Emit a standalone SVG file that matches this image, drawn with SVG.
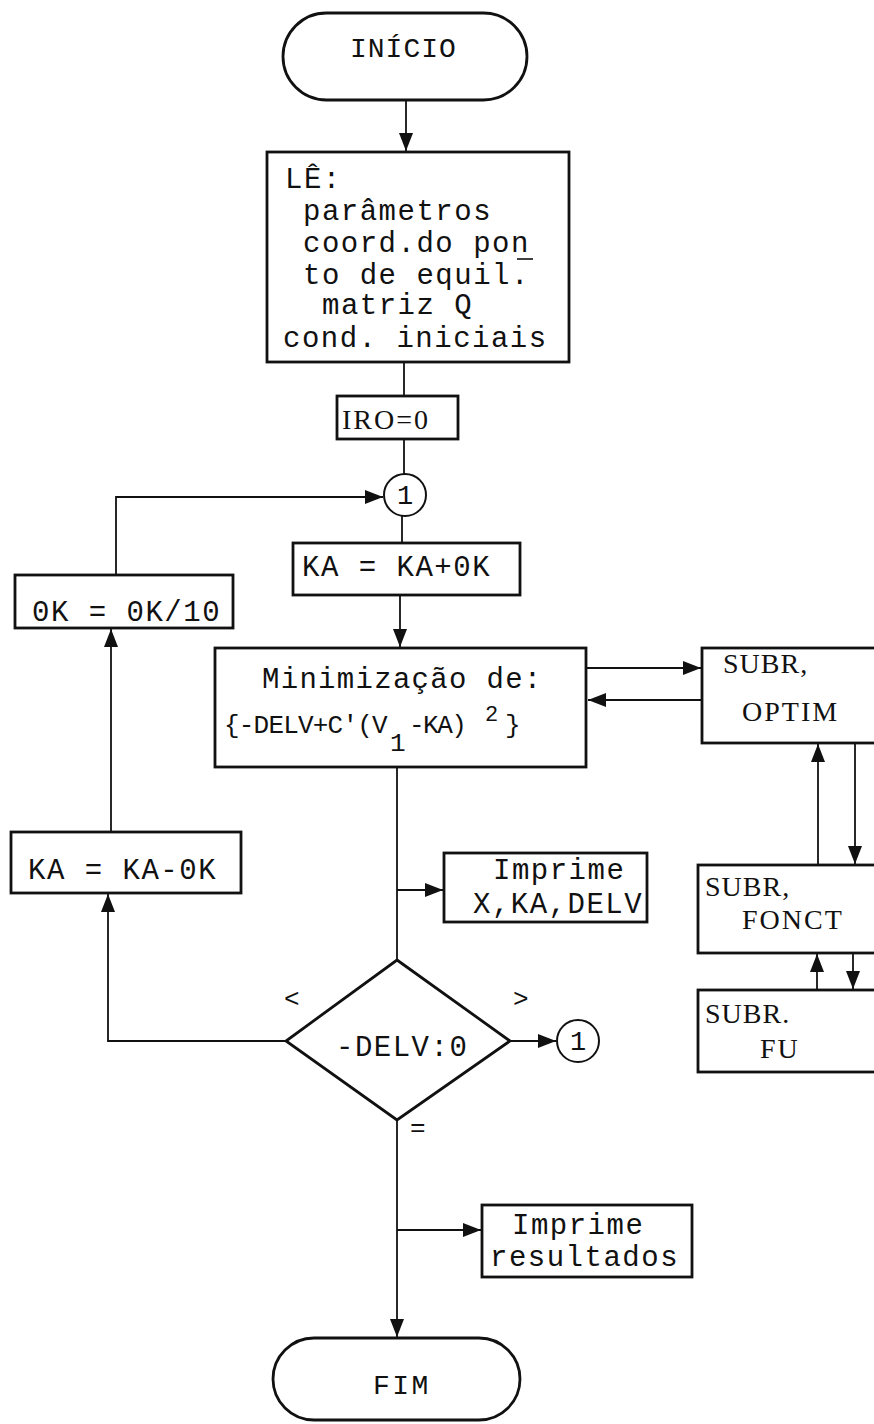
<svg xmlns="http://www.w3.org/2000/svg" width="874" height="1424" viewBox="0 0 874 1424">
<defs>
<style>
.box{fill:#fff;stroke:#111;stroke-width:2.8}
.ln{fill:none;stroke:#111;stroke-width:1.8}
.t{font-family:"Liberation Mono","Courier New",monospace;font-size:29px;letter-spacing:1.5px;fill:#111}
.s{font-family:"Liberation Serif","Times New Roman",serif;font-size:28px;letter-spacing:2px;fill:#111}
.c{font-family:"Liberation Mono","Courier New",monospace;font-size:27px;fill:#111;text-anchor:middle}
</style>
<marker id="ar" markerUnits="userSpaceOnUse" markerWidth="18" markerHeight="14" refX="18" refY="7" orient="auto">
<path d="M0,0 L18,7 L0,14 z" fill="#111"/>
</marker>
</defs>
<rect width="874" height="1424" fill="#fff"/>

<g id="connectors">
<line class="ln" x1="406" y1="100" x2="406" y2="151" marker-end="url(#ar)"/>
<line class="ln" x1="404" y1="362" x2="404" y2="396"/>
<line class="ln" x1="404" y1="439" x2="404" y2="474"/>
<line class="ln" x1="402" y1="516" x2="402" y2="543"/>
<line class="ln" x1="400" y1="595" x2="400" y2="647" marker-end="url(#ar)"/>
<polyline class="ln" points="116,575 116,497 383,497" marker-end="url(#ar)"/>
<line class="ln" x1="111" y1="832" x2="111" y2="629" marker-end="url(#ar)"/>
<polyline class="ln" points="286,1041 108,1041 108,894" marker-end="url(#ar)"/>
<line class="ln" x1="397" y1="767" x2="397" y2="960"/>
<line class="ln" x1="397" y1="890" x2="443" y2="890" marker-end="url(#ar)"/>
<line class="ln" x1="510" y1="1041" x2="556" y2="1041" marker-end="url(#ar)"/>
<line class="ln" x1="397" y1="1120" x2="397" y2="1337" marker-end="url(#ar)"/>
<line class="ln" x1="397" y1="1230" x2="481" y2="1230" marker-end="url(#ar)"/>
<line class="ln" x1="587" y1="668" x2="701" y2="668" marker-end="url(#ar)"/>
<line class="ln" x1="702" y1="700" x2="588" y2="700" marker-end="url(#ar)"/>
<line class="ln" x1="818" y1="865" x2="818" y2="744" marker-end="url(#ar)"/>
<line class="ln" x1="855" y1="743" x2="855" y2="864" marker-end="url(#ar)"/>
<line class="ln" x1="817" y1="990" x2="817" y2="954" marker-end="url(#ar)"/>
<line class="ln" x1="853" y1="953" x2="853" y2="989" marker-end="url(#ar)"/>
</g>

<g id="inicio">
<rect class="box" x="283" y="13" width="244" height="87" rx="43.5"/>
<text class="t" x="350" y="57" style="font-size:28px;letter-spacing:1px">INÍCIO</text>
</g>

<g id="le">
<rect class="box" x="267" y="152" width="302" height="210"/>
<text class="t" x="285" y="188">LÊ:</text>
<text class="t" x="303" y="220">parâmetros</text>
<text class="t" x="303" y="252">coord.do pon</text>
<line x1="517" y1="259" x2="533" y2="259" stroke="#111" stroke-width="1.6"/>
<text class="t" x="303" y="284">to de equil.</text>
<text class="t" x="322" y="314">matriz Q</text>
<text class="t" x="283" y="347">cond. iniciais</text>
</g>

<g id="iro">
<rect class="box" x="337" y="396" width="121" height="43"/>
<text class="s" x="342" y="429" style="letter-spacing:2px">IRO=0</text>
</g>

<g id="conn1-top">
<circle class="box" cx="405" cy="495" r="21" style="stroke-width:2"/>
<text class="c" x="405" y="504">1</text>
</g>

<g id="ka-plus">
<rect class="box" x="293" y="543" width="227" height="52"/>
<text class="t" x="302" y="576">KA = KA+0K</text>
</g>

<g id="ok-div">
<rect class="box" x="15" y="575" width="218" height="53"/>
<text class="t" x="32" y="621">0K = 0K/10</text>
</g>

<g id="minimizacao">
<rect class="box" x="215" y="648" width="371" height="119"/>
<text class="t" x="262" y="688" style="letter-spacing:1.3px">Minimização de:</text>
<text class="t" x="224" y="733" style="font-size:26px;letter-spacing:-0.8px">{-DELV+C'(V</text>
<text class="t" x="390" y="751" style="font-size:26px;letter-spacing:0">1</text>
<text class="t" x="409" y="733" style="font-size:26px;letter-spacing:-1.5px">-KA)</text>
<text class="t" x="485" y="721" style="font-size:22px;letter-spacing:0">2</text>
<text class="t" x="505" y="733" style="font-size:26px;letter-spacing:0">}</text>
</g>

<g id="optim">
<rect class="box" x="702" y="648" width="180" height="95"/>
<text class="s" x="723" y="673" style="letter-spacing:1px">SUBR,</text>
<text class="s" x="742" y="721">OPTIM</text>
</g>

<g id="ka-minus">
<rect class="box" x="11" y="832" width="230" height="61"/>
<text class="t" x="28" y="879">KA = KA-0K</text>
</g>

<g id="imprime-x">
<rect class="box" x="444" y="853" width="203" height="69"/>
<text class="t" x="493" y="879">Imprime</text>
<text class="t" x="473" y="913">X,KA,DELV</text>
</g>

<g id="fonct">
<rect class="box" x="698" y="865" width="184" height="88"/>
<text class="s" x="705" y="896" style="letter-spacing:1px">SUBR,</text>
<text class="s" x="742" y="929">FONCT</text>
</g>

<g id="fu">
<rect class="box" x="698" y="990" width="184" height="82"/>
<text class="s" x="705" y="1023" style="letter-spacing:1px">SUBR.</text>
<text class="s" x="760" y="1058">FU</text>
</g>

<g id="decisao">
<polygon class="box" points="397,960 510,1041 397,1120 286,1041"/>
<text class="t" x="336" y="1056">-DELV:0</text>
<text class="t" x="284" y="1007" style="font-size:26px">&lt;</text>
<text class="t" x="513" y="1007" style="font-size:26px">&gt;</text>
<text class="t" x="410" y="1136" style="font-size:26px">=</text>
</g>

<g id="conn1-right">
<circle class="box" cx="578" cy="1041" r="21" style="stroke-width:2"/>
<text class="c" x="578" y="1050">1</text>
</g>

<g id="imprime-res">
<rect class="box" x="482" y="1205" width="210" height="72"/>
<text class="t" x="512" y="1234">Imprime</text>
<text class="t" x="490" y="1266">resultados</text>
</g>

<g id="fim">
<rect class="box" x="273" y="1338" width="247" height="82" rx="41"/>
<text class="t" x="373" y="1394" style="font-size:28px;letter-spacing:2.5px">FIM</text>
</g>
</svg>
